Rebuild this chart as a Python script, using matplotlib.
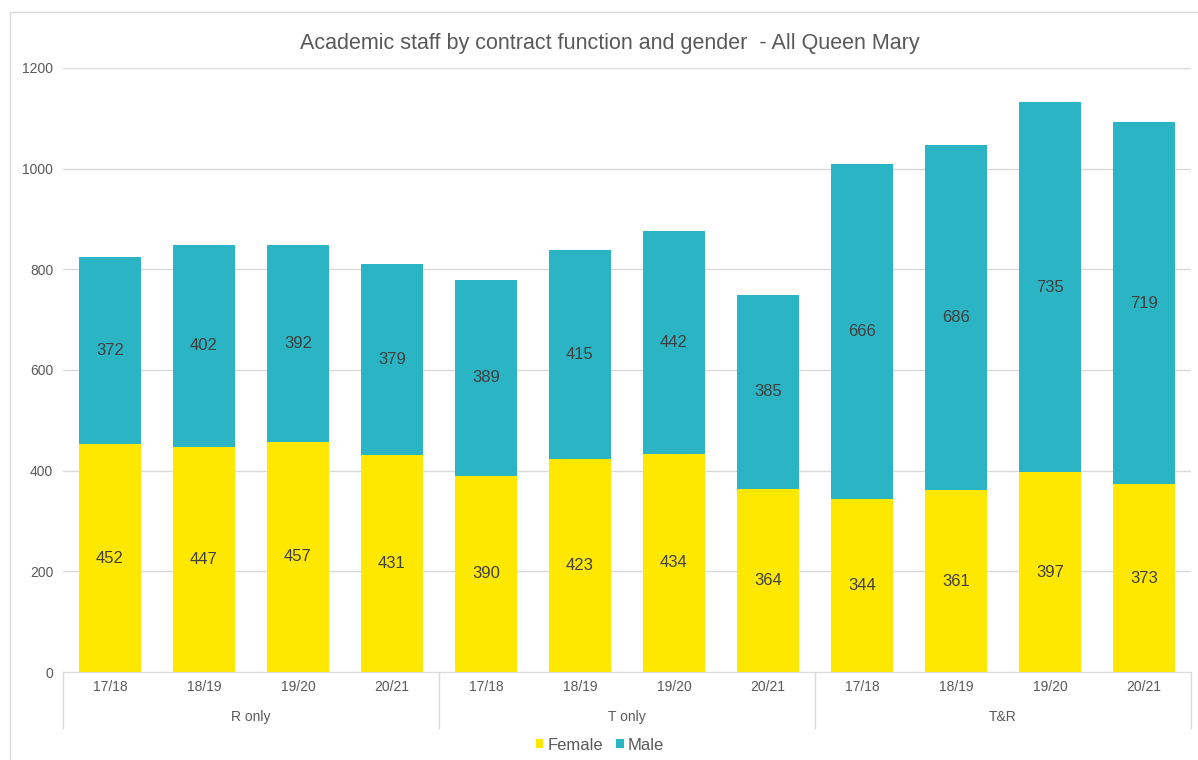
import matplotlib
matplotlib.use("Agg")
import matplotlib.pyplot as plt
import matplotlib.transforms as mtransforms
from matplotlib.patches import Rectangle
from matplotlib.lines import Line2D
import numpy as np

plt.rcParams["font.family"] = ["Liberation Sans", "DejaVu Sans"]

groups = ["R only", "T only", "T&R"]
years = ["17/18", "18/19", "19/20", "20/21"]
female = [452, 447, 457, 431, 390, 423, 434, 364, 344, 361, 397, 373]
male = [372, 402, 392, 379, 389, 415, 442, 385, 666, 686, 735, 719]

yellow = "#FFE800"
teal = "#2BB4C3"
grey_txt = "#595959"

W, H = 1198, 760
fig = plt.figure(figsize=(W / 100, H / 100), dpi=100)
ax = fig.add_axes([63 / W, (H - 672) / H, (1191 - 63) / W, (672 - 68) / H])

x = np.arange(len(female))
bars_f = ax.bar(x, female, 0.66, color=yellow, label="Female", zorder=2)
bars_m = ax.bar(x, male, 0.66, bottom=female, color=teal, label="Male", zorder=2)
ax.bar_label(bars_f, label_type="center", color="#404040", fontsize=12)
ax.bar_label(bars_m, label_type="center", color="#404040", fontsize=12)

ax.set_xlim(-0.5, len(female) - 0.5)
ax.set_ylim(0, 1200)
ax.set_yticks(range(0, 1201, 200))
ax.yaxis.grid(True, color="#D9D9D9", linewidth=1, zorder=0)
ax.tick_params(axis="y", length=0, pad=7, labelsize=10, labelcolor=grey_txt)
ax.set_xticks(x)
ax.set_xticklabels(years * len(groups))
ax.tick_params(axis="x", length=0, pad=6, labelsize=10, labelcolor=grey_txt)
for s in ["top", "right", "left"]:
    ax.spines[s].set_visible(False)
ax.spines["bottom"].set_color("#D9D9D9")

# group labels and separators under the axis
trans = mtransforms.blended_transform_factory(ax.transData, ax.transAxes)
for i, g in enumerate(groups):
    ax.text(i * 4 + 1.5, -0.074, g, transform=trans, ha="center", va="center",
            fontsize=10, color=grey_txt)
for i in range(len(groups) + 1):
    ax.add_line(Line2D([i * 4 - 0.5] * 2, [0, -0.093], transform=trans,
                       color="#D9D9D9", linewidth=1, clip_on=False))

fig.text(610 / W, 1 - 44 / H,
         "Academic staff by contract function and gender  - All Queen Mary",
         ha="center", va="center", fontsize=15.5, color=grey_txt)

fig.legend(loc="center", bbox_to_anchor=(600 / W, 1 - 745 / H), ncol=2,
           frameon=False, fontsize=12, handlelength=0.45, handleheight=0.45,
           columnspacing=0.8, handletextpad=0.25, labelcolor=grey_txt)

fig.patches.append(Rectangle((10 / W, -0.01), 1, 1 - 12 / H + 0.01,
                             transform=fig.transFigure, fill=False,
                             edgecolor="#D9D9D9", linewidth=1))

fig.savefig("out.png", dpi=100)
